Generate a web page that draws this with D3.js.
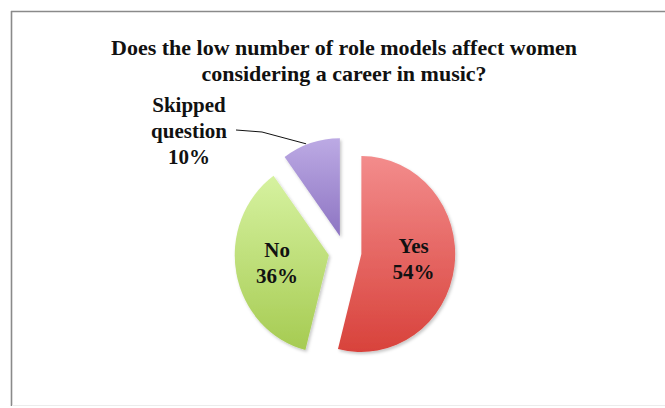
<!DOCTYPE html>
<html>
<head>
<meta charset="utf-8">
<script src="https://cdn.jsdelivr.net/npm/d3@7"></script>
<style>
  html, body { margin: 0; padding: 0; background: #fff; }
  svg { display: block; }
  text { font-family: "Liberation Serif", "Times New Roman", serif; font-weight: bold; fill: #111; }
</style>
</head>
<body>
<svg id="chart" width="665" height="408"></svg>
<script>
// ---- data ----
const titleLines = ["Does the low number of role models affect women", "considering a career in music?"];
const categories = ["Yes", "No", "Skipped question"];
const values = [54, 36, 10];
const labelLines = [["Yes", "54%"], ["No", "36%"], ["Skipped", "question", "10%"]];
const colorsTop = ["#f38c8c", "#d6f2a0", "#bcaae4"];
const colorsBottom = ["#d8423b", "#a6cb52", "#8d74c2"];

const svg = d3.select("#chart");
const W = 665, H = 408;

// frame
svg.append("line").attr("x1", 11).attr("y1", 11.5).attr("x2", W).attr("y2", 11.5).attr("stroke", "#8a8a8a").attr("stroke-width", 1.6);
svg.append("line").attr("x1", 11.5).attr("y1", 11).attr("x2", 11.5).attr("y2", 406).attr("stroke", "#8a8a8a").attr("stroke-width", 1.6);
svg.append("line").attr("x1", 12).attr("y1", 405.5).attr("x2", W).attr("y2", 405.5).attr("stroke", "#ececec").attr("stroke-width", 1);

// title
const title = svg.append("text").attr("text-anchor", "middle").style("font-size", "22px");
titleLines.forEach((t, i) => {
  title.append("tspan").attr("x", 344).attr("y", 55 + i * 26).text(t);
});

// defs: gradients + shadow
const defs = svg.append("defs");
categories.forEach((c, i) => {
  const g = defs.append("linearGradient").attr("id", "grad" + i)
    .attr("x1", 0).attr("y1", 0).attr("x2", 0).attr("y2", 1);
  g.append("stop").attr("offset", "0%").attr("stop-color", colorsTop[i]);
  g.append("stop").attr("offset", "100%").attr("stop-color", colorsBottom[i]);
});
const f = defs.append("filter").attr("id", "shadow").attr("x", "-20%").attr("y", "-20%").attr("width", "140%").attr("height", "140%");
f.append("feDropShadow").attr("dx", 1.5).attr("dy", 2).attr("stdDeviation", 1.8).attr("flood-color", "#000").attr("flood-opacity", 0.22);

// pie
const cx = 345, cy = 252;
const rx = 94, ry = 98;
const explode = 16.5;
const pie = d3.pie().sort(null).value(d => d)(values);
const arc = d3.arc().innerRadius(0).outerRadius(1);

const g = svg.append("g").attr("transform", `translate(${cx},${cy})`);

function offsetOf(d) {
  const m = (d.startAngle + d.endAngle) / 2;
  return [explode * Math.sin(m), -explode * Math.cos(m)];
}

pie.forEach((d, i) => {
  const [ox, oy] = offsetOf(d);
  g.append("g")
    .attr("transform", `translate(${ox},${oy})`)
    .attr("filter", "url(#shadow)")
    .append("path")
    .attr("d", arc(d))
    .attr("transform", `scale(${rx},${ry})`)
    .attr("fill", `url(#grad${i})`);
});

// inner labels (Yes, No)
const labelR = 0.56;
[0, 1].forEach(i => {
  const d = pie[i];
  const [ox, oy] = offsetOf(d);
  const m = (d.startAngle + d.endAngle) / 2;
  const lx = ox + rx * labelR * Math.sin(m);
  const ly = oy - ry * labelR * Math.cos(m);
  const t = g.append("text").attr("text-anchor", "middle").style("font-size", "21px");
  labelLines[i].forEach((s, k) => {
    t.append("tspan").attr("x", lx).attr("y", ly - 8 + k * 26).text(s);
  });
});

// outside label for skipped with leader line
{
  const i = 2, d = pie[i];
  const [ox, oy] = offsetOf(d);
  const m = (d.startAngle + d.endAngle) / 2 - 0.05;
  const ex = ox + rx * 1.01 * Math.sin(m);
  const ey = oy - ry * 1.01 * Math.cos(m);
  const lx = 189 - cx, ly = 131 - cy;
  g.append("polyline")
    .attr("points", [[lx + 47, ly - 1], [lx + 73, ly + 1], [ex, ey]].map(p => p.join(",")).join(" "))
    .attr("fill", "none").attr("stroke", "#111").attr("stroke-width", 1);
  const t = g.append("text").attr("text-anchor", "middle").style("font-size", "21px");
  labelLines[i].forEach((s, k) => {
    t.append("tspan").attr("x", lx).attr("y", ly - 19 + k * 26).text(s);
  });
}
</script>
</body>
</html>
